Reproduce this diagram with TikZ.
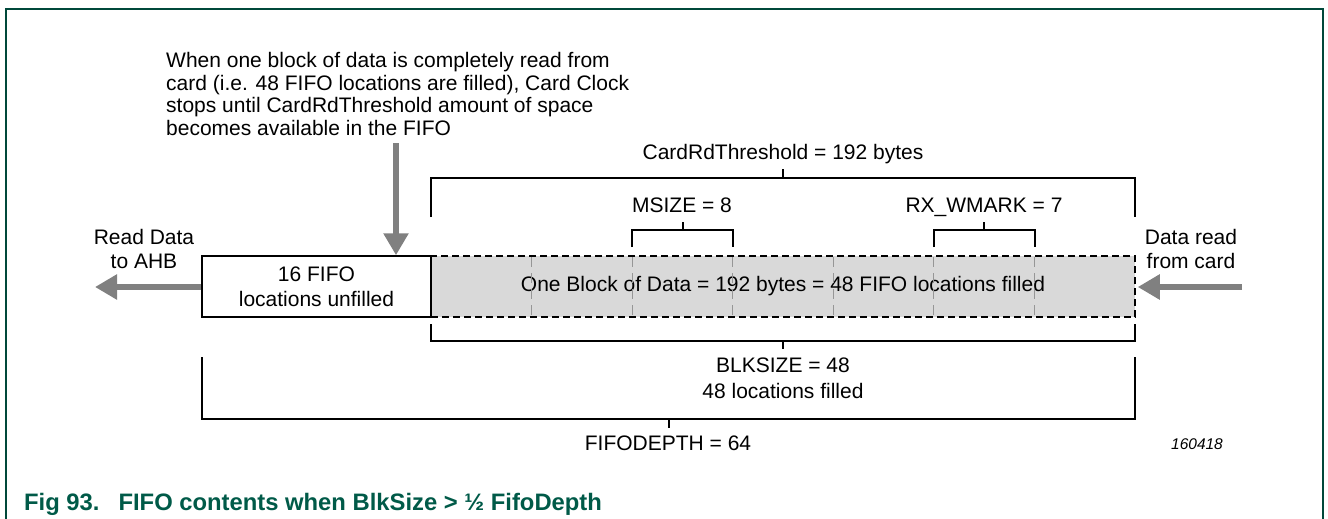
\documentclass[tikz,border=0pt]{standalone}
\usepackage{fontspec}
\setmainfont{Liberation Sans}
\usetikzlibrary{arrows.meta,calc}
\definecolor{frameg}{RGB}{0,72,58}
\definecolor{capg}{RGB}{0,90,72}
\definecolor{arrg}{RGB}{128,128,128}
\definecolor{blkfill}{RGB}{217,217,217}
\definecolor{innerg}{RGB}{150,150,150}
\begin{document}
\begin{tikzpicture}[x=1pt,y=-1pt,
  lbl/.style={font=\fontsize{21}{24}\selectfont, inner sep=0pt, align=center},
  boxw/.style={draw, line width=1.5pt, minimum width=229pt, minimum height=61pt, inner sep=0pt, align=center, font=\fontsize{21}{25}\selectfont},
  boxd/.style={draw, fill=blkfill, line width=1.5pt, dash pattern=on 7pt off 4pt, minimum width=704pt, minimum height=61pt, inner sep=0pt, font=\fontsize{21}{25}\selectfont},
  bigarrow/.style={draw=arrg, line width=6pt, -{Triangle[length=22pt,width=24pt]}},
  brk/.style={draw, line width=1.3pt},
  innerdash/.style={draw=innerg, line width=1pt, dash pattern=on 10pt off 6pt}]
\useasboundingbox (0,0) rectangle (1328,519);
% frame
\draw[frameg, line width=1.2pt] (6,519) -- (6,9) -- (1323,9) -- (1323,519);

% annotation
\node[font=\fontsize{21}{22.7}\selectfont, inner sep=0pt, align=left, anchor=north west] (note) at (166,52)
  {When one block of data is completely read from\\card (i.e. 48 FIFO locations are filled), Card Clock\\stops until CardRdThreshold amount of space\\becomes available in the FIFO};

% boxes
\node[boxd] (blk) at (783,286.5) {One Block of Data = 192 bytes = 48 FIFO locations filled};
\foreach \xx in {531.6,632.1,732.7,833.3,933.9,1034.4}
  \draw[innerdash] (\xx,257) -- (\xx,316);
\node[boxw] (unf) at (316.5,286.5) {16 FIFO\\locations unfilled};

% arrows
\coordinate (ntop) at (396,143);
\draw[bigarrow] (ntop) -- (ntop |- unf.north);
\coordinate (ahb) at (95,287);
\draw[bigarrow] (unf.west |- ahb) -- (ahb);
\coordinate (card) at (1242,287);
\draw[bigarrow] (card) -- ($(blk.east |- card)+(2,0)$);

\node[lbl] (rd) at (144,249) {Read Data\\to AHB};
\node[lbl] (dr) at (1191,249) {Data read\\from card};

% CardRdThreshold bracket
\node[lbl, anchor=base] (thr) at (783,159) {CardRdThreshold = 192 bytes};
\draw[brk] (431,217) -- (431,178) -- (1135,178) -- (1135,217);
\draw[brk] (783,178) -- (783,169);

% MSIZE bracket
\node[lbl, anchor=base] (ms) at (682,212) {MSIZE = 8};
\draw[brk] (632,247) -- (632,230) -- (733,230) -- (733,247);
\draw[brk] (683,230) -- (683,222);

% RX_WMARK bracket
\node[lbl, anchor=base] (rx) at (984,212) {RX\_WMARK = 7};
\draw[brk] (934,247) -- (934,230) -- (1035,230) -- (1035,247);
\draw[brk] (984,230) -- (984,222);

% BLKSIZE bracket
\draw[brk] (431,324) -- (431,341) -- (1135,341) -- (1135,324);
\draw[brk] (783,341) -- (783,349);
\node[font=\fontsize{21}{26}\selectfont, inner sep=0pt, align=center, anchor=base] (bs) at (783,398.5) {BLKSIZE = 48\\48 locations filled};

% FIFODEPTH bracket
\draw[brk] (202,357) -- (202,419) -- (1135,419) -- (1135,357);
\draw[brk] (669,419) -- (669,428);
\node[lbl, anchor=base] (fd) at (668,450.5) {FIFODEPTH = 64};

\node[font=\fontsize{15.5}{18}\selectfont\itshape, inner sep=0pt, anchor=base] (id) at (1197,449.5) {160418};

% caption
\node[font=\fontsize{23.8}{26}\selectfont\bfseries, text=capg, inner sep=0pt, anchor=base west] (cap) at (24,510)
  {Fig 93.\hspace{19pt}FIFO contents when BlkSize > ½ FifoDepth};
\end{tikzpicture}
\end{document}
